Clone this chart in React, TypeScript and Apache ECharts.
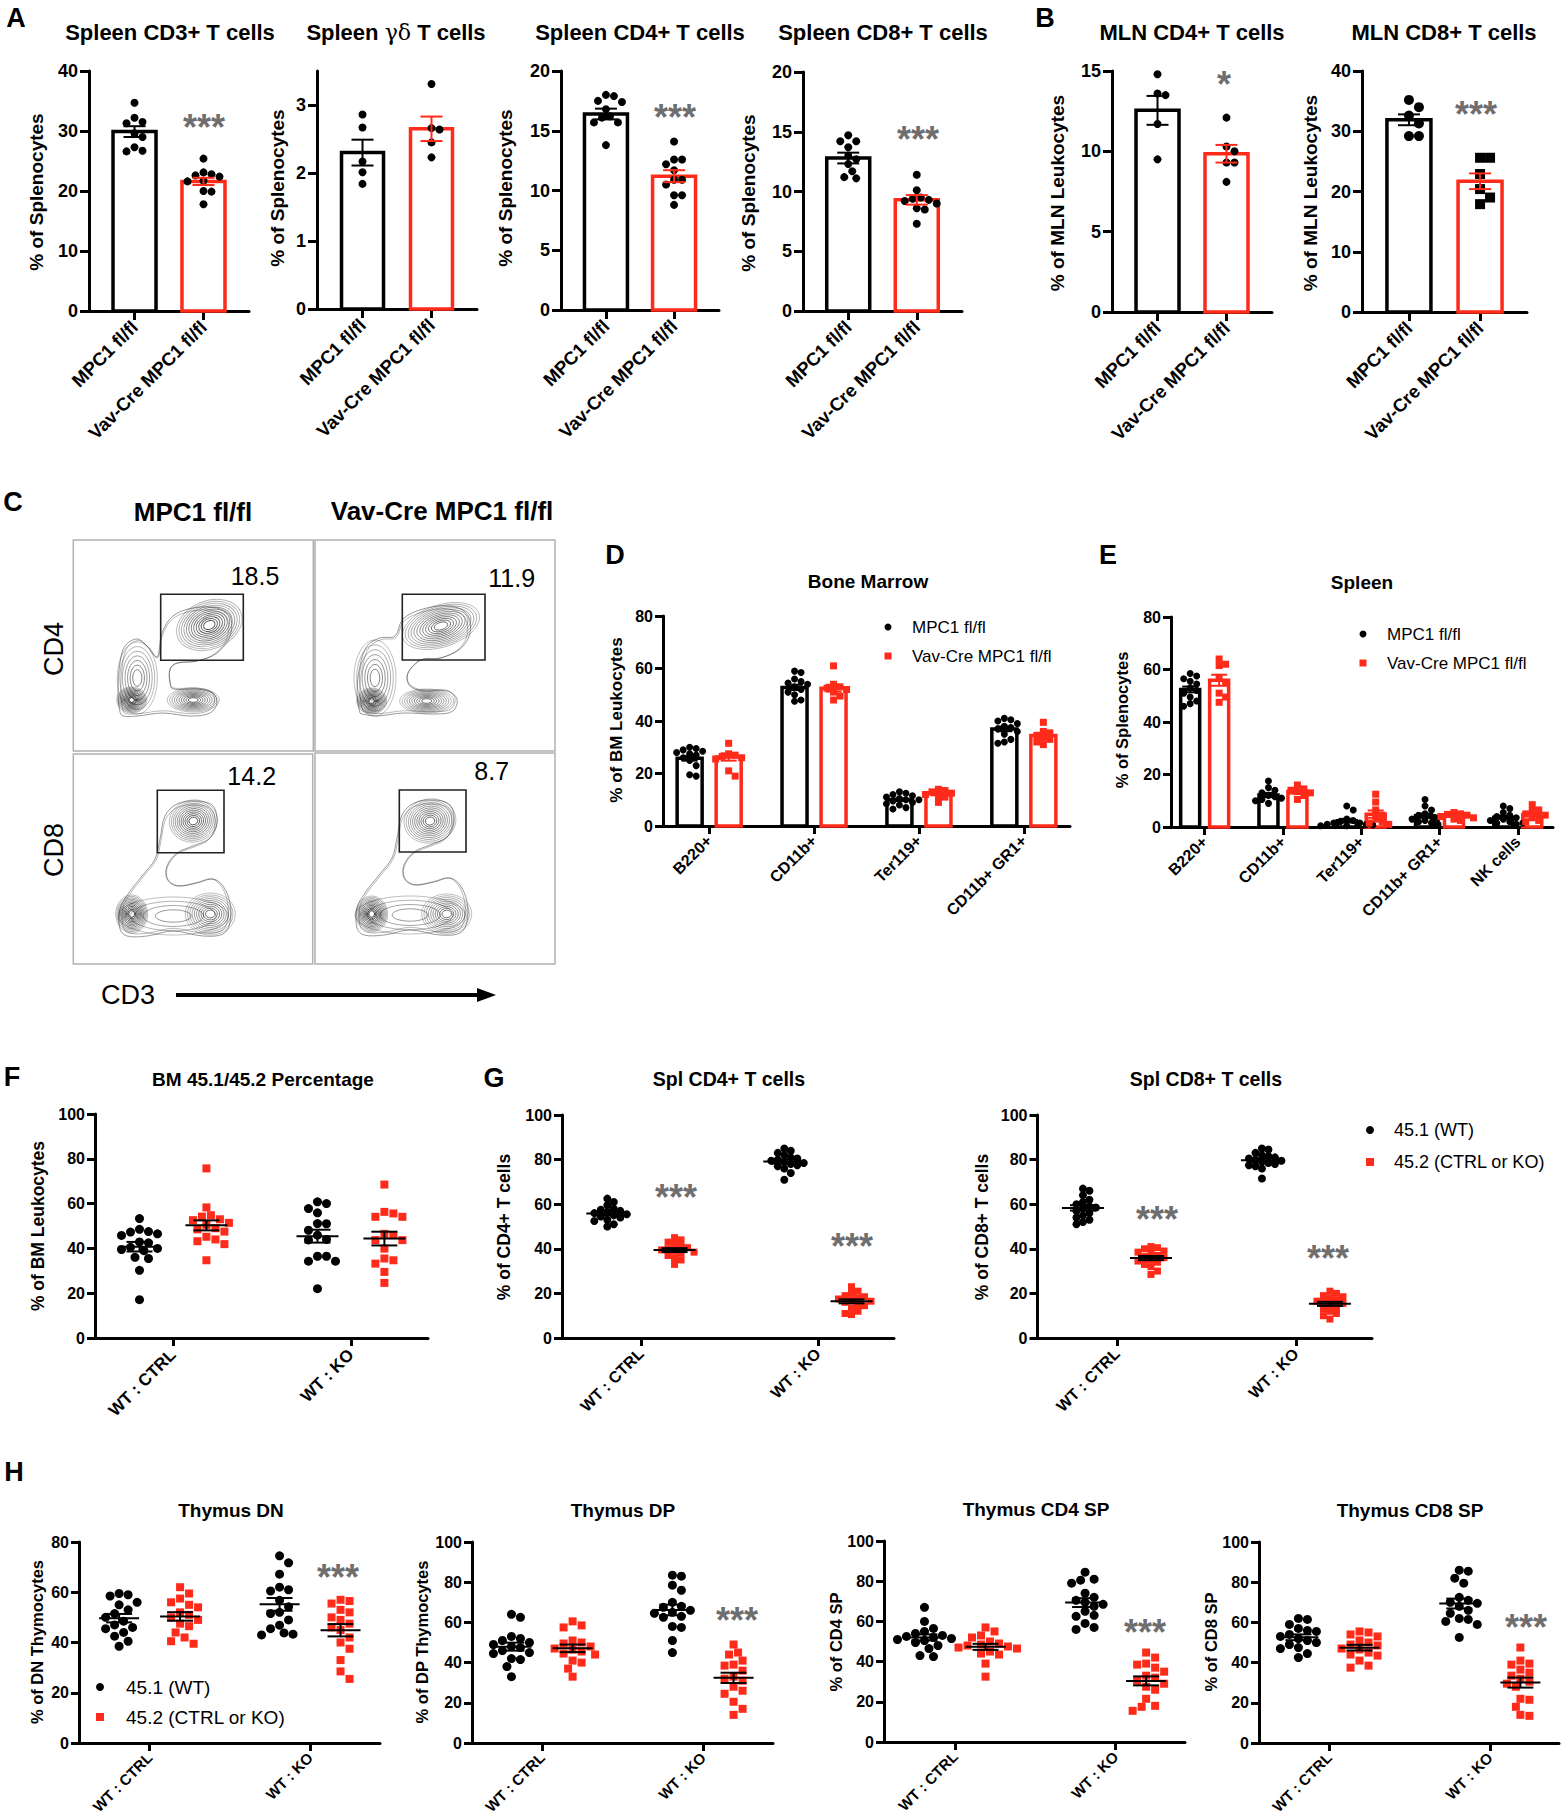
import React, { useEffect, useRef } from "react";
import * as echarts from "echarts";

const BLACK = "#000000";
const RED = "#ff2b1a";
const STAR = "#6e6e6e";
const FONT = "'Liberation Sans', Arial, Helvetica, sans-serif";

// ---------------- Panel A / B (bar + dots) ----------------
const genotypes = ["MPC1 fl/fl", "Vav-Cre MPC1 fl/fl"];
const cd3Ctrl = [34.7, 32.2, 31.5, 31.3, 29.6, 29.0, 27.3, 26.7, 26.6];
const cd3Ko = [25.4, 23.1, 22.8, 22.6, 22.4, 21.7, 21.6, 20.0, 19.9, 17.8];
const cd3Mean = [29.9, 21.6];
const cd3Sem = [0.9, 0.6];
const gdCtrl = [2.86, 2.67, 2.17, 2.01, 1.84];
const gdKo = [3.31, 2.66, 2.64, 2.45, 2.23];
const gdMean = [2.3, 2.65];
const gdSem = [0.19, 0.18];
const cd4Ctrl = [18.0, 17.9, 17.5, 17.4, 16.8, 16.2, 16.1, 15.7, 15.7, 13.8];
const cd4Ko = [14.1, 12.6, 12.6, 12.2, 11.7, 10.9, 10.9, 10.5, 9.6, 9.6, 8.8];
const cd4Mean = [16.4, 11.2];
const cd4Sem = [0.45, 0.5];
const cd8Ctrl = [14.7, 14.2, 14.2, 13.7, 13.0, 12.7, 12.3, 11.7, 11.2, 11.1];
const cd8Ko = [11.4, 10.1, 9.5, 9.4, 9.3, 9.2, 9.0, 8.6, 8.5, 7.3];
const cd8Mean = [12.8, 9.3];
const cd8Sem = [0.45, 0.4];
const mlnCd4Ctrl = [14.8, 13.6, 13.5, 11.7, 9.5];
const mlnCd4Ko = [12.1, 10.3, 10.0, 9.3, 9.3, 8.1];
const mlnCd4Mean = [12.55, 9.85];
const mlnCd4Sem = [0.9, 0.55];
const mlnCd8Ctrl = [35.2, 34.0, 32.6, 31.3, 29.2, 29.2];
const mlnCd8Ko = [25.6, 25.6, 22.9, 20.4, 19.0, 17.9];
const mlnCd8Mean = [31.9, 21.7];
const mlnCd8Sem = [0.9, 1.3];

// ---------------- Panel C (flow) ----------------
const flowPercents = ["18.5", "11.9", "14.2", "8.7"];

// ---------------- Panel D (bone marrow) ----------------
const bmCats = ["B220+", "CD11b+", "Ter119+", "CD11b+ GR1+"];
const bmCtrlPoints = [
  [30, 29.5, 29, 28.5, 28, 27.5, 27, 26, 25, 23, 19.5, 19],
  [59, 58.5, 56, 55, 54.5, 54, 53, 52, 51, 50, 48, 47.5],
  [13, 12.5, 12, 11.5, 11, 10.5, 10, 10, 9.5, 9, 8.5, 8, 7, 6.5],
  [41, 40.5, 40, 39, 38, 37.5, 37, 36, 35, 33, 32, 31.5],
];
const bmKoPoints = [
  [31.5, 27.5, 27, 26.5, 26, 25.5, 21, 19],
  [61, 54, 53, 52.5, 52, 51, 49.5, 48],
  [14, 13.5, 13, 12.5, 12, 11.5, 11, 9],
  [39.5, 36, 35.5, 34.5, 33.5, 33, 32, 31],
];
const bmCtrlMean = [25.8, 52.8, 10.0, 37.0];
const bmCtrlSem = [0.9, 1.0, 0.5, 0.9];
const bmKoMean = [26.3, 52.5, 12.3, 34.5];
const bmKoSem = [1.4, 1.3, 0.6, 1.0];

// ---------------- Panel E (spleen) ----------------
const spCats = ["B220+", "CD11b+", "Ter119+", "CD11b+ GR1+", "NK cells"];
const spCtrlPoints = [
  [58.5, 57.5, 56.5, 55.5, 54.5, 53, 52, 51, 49.5, 48, 47, 46],
  [17.5, 15, 14, 13, 12, 11.5, 11, 10.5, 10, 9],
  [8, 6.5, 3, 2.5, 2, 1.5, 1.5, 1, 1, 0.8, 0.5, 0.5],
  [10.5, 8, 6.5, 5, 4.5, 4, 3.5, 3, 2.5, 2, 1.5, 1],
  [8, 7, 5.5, 4.5, 4, 3.5, 3, 2.5, 2, 1.5, 1.5, 1],
];
const spKoPoints = [
  [64, 62, 61.5, 57, 55, 51, 49.5, 47.5],
  [16, 14.5, 14, 13.5, 13, 12, 10.5],
  [12.5, 9.5, 6.5, 4.5, 3, 2, 1.5, 1],
  [5.5, 5, 4.8, 4.5, 4, 3.5, 3, 2.5],
  [8.5, 6.5, 6, 5, 4.5, 3.5, 2.5, 2],
];
const spCtrlMean = [52.4, 12.2, 2.4, 4.3, 3.7];
const spCtrlSem = [1.1, 0.8, 0.7, 0.8, 0.6];
const spKoMean = [55.9, 13.5, 4.9, 4.2, 4.8];
const spKoSem = [2.1, 0.8, 1.4, 0.4, 0.8];

// ---------------- Panels F / G / H (chimeras) ----------------
const chimCats = ["WT : CTRL", "WT : KO"];
const bmChimWT = [
  [53.3, 48.5, 47.5, 47.3, 46.5, 45.8, 42.9, 42.5, 40.5, 40, 39.5, 39, 36, 35.5, 30.2, 17.1],
  [60.8, 60, 57.8, 55.9, 51.1, 51, 48.1, 45.9, 44, 43.8, 36.5, 36.5, 34.3, 34.3, 22],
];
const bmChimDon = [
  [75.7, 58.3, 54.8, 54.2, 53, 52.6, 51.4, 50.5, 49, 48.5, 47.5, 45.2, 44, 43.2, 41.9, 34.7],
  [68.5, 56.3, 55.6, 54.1, 54.1, 46.5, 45.9, 43.7, 43.7, 39.9, 35.5, 34.7, 33.2, 29.5, 24.6],
];
const splCd4WT = [
  [62.5, 61, 59.5, 58, 57.5, 57, 56.5, 56, 55.5, 55, 54.5, 54, 53, 52.5, 51, 50],
  [85, 84, 83, 82, 81, 80.5, 80, 79.5, 79, 78.5, 78, 77.5, 77, 76, 74, 71],
];
const splCd4Don = [
  [45, 44, 43, 42, 41, 40.5, 40, 39.5, 39, 38.5, 38, 37, 36, 35, 33],
  [23, 21, 20, 19, 18.5, 18, 17.5, 17, 16.5, 16, 15, 14.5, 13.5, 12, 11, 10.5],
];
const splCd8WT = [
  [67, 66, 64, 62, 61, 60, 59, 58.5, 58, 57, 56, 55, 54, 53, 52, 51],
  [85, 84.5, 83, 82, 81.5, 81, 80.5, 80, 79.5, 79, 78.5, 78, 77.5, 77, 76, 71.5],
];
const splCd8Don = [
  [41, 40.5, 40, 39, 38.5, 38, 37, 36.5, 36, 35, 34.5, 34, 33, 32, 30, 28.5],
  [21, 20, 19, 18.5, 18, 17, 16.5, 16, 15.5, 15, 14, 13, 12, 11, 10, 8.5],
];
const thyDnWT = [
  [59.5, 59, 58.5, 56, 55, 53, 51.5, 50, 48.5, 47, 46, 45.5, 44, 42.5, 40.5, 38.5],
  [74.5, 71.7, 67.2, 62, 61, 60.5, 56.8, 54.2, 52, 51.5, 49, 46.9, 45.5, 43.8, 43.3, 43],
];
const thyDnDon = [
  [62, 59.5, 57.5, 56, 55, 54, 52, 51, 50, 49, 47.5, 46.5, 44, 42, 40.5, 39.5],
  [57, 56.5, 55.5, 53, 52, 50, 49, 47.5, 46, 45, 42, 40, 37.5, 33, 28.5, 25.5],
];
const thyDpWT = [
  [64, 62.5, 53, 52, 51, 50, 49, 48, 47.5, 46, 45, 44.5, 42, 41.5, 38, 33],
  [83.5, 83, 78.5, 76, 70, 68, 67.5, 66, 65, 64.5, 63, 62.5, 58, 57.5, 51, 45],
];
const thyDpDon = [
  [60.5, 58.5, 57.5, 51, 50, 49.5, 48, 47, 46.5, 45.5, 44.5, 44, 41, 40, 37, 33],
  [49, 45, 44, 41, 39, 38.5, 36, 33, 32, 31, 28, 26, 24.5, 20.5, 17, 14],
];
const thyCd4WT = [
  [67, 60, 56.5, 55, 54, 53, 52.5, 52, 51.5, 51, 50.5, 49.5, 48, 46.5, 43, 42.5],
  [84.5, 81, 80.5, 79, 74, 72, 70.5, 69.5, 68.5, 67.5, 65, 63, 62.5, 59, 57, 56],
];
const thyCd4Don = [
  [57, 55, 53, 52, 50, 49, 48.5, 48, 47.5, 47, 46.5, 45, 44, 43.5, 39, 32.5],
  [44.5, 42, 39, 38.5, 37, 35, 33, 32, 30.5, 29, 27.5, 26, 21.5, 18, 17.5, 15.5],
];
const thyCd8WT = [
  [62, 61.5, 59, 57, 56, 55.5, 54, 53, 52, 51, 50, 49, 47.5, 47, 44.5, 42.5],
  [86, 85.5, 82, 79.5, 72.5, 71, 70, 69.5, 68, 66, 64.5, 62, 61.5, 60.5, 59, 52.5],
];
const thyCd8Don = [
  [55.5, 55, 54, 53, 51, 50, 49, 48.5, 47, 46.5, 45, 44, 43.5, 41, 38.5, 37.5],
  [47.5, 41, 39.5, 39, 36.5, 35, 33.5, 32, 30.5, 29.5, 28, 22, 21.5, 18, 14, 13.5],
];

// ---------------- helpers ----------------
const avg = (a: number[]) => a.reduce((s, v) => s + v, 0) / a.length;
const sem = (a: number[]) => {
  const m = avg(a);
  const v = a.reduce((s, x) => s + (x - m) * (x - m), 0) / (a.length - 1);
  return Math.sqrt(v / a.length);
};

// beeswarm placement (layout only): returns [x, y] pairs in data units
function swarm(values: number[], center: number, pxX: number, pxY: number, d: number) {
  const placed: { x: number; y: number }[] = [];
  const order = values.map((_, i) => i).sort((a, b) => values[b] - values[a]);
  const res: number[][] = new Array(values.length);
  const step = d / 2;
  for (const i of order) {
    const y = values[i] * pxY;
    let chosen = 0;
    for (let k = 0; k < 60; k++) {
      const off = k === 0 ? 0 : (k % 2 === 1 ? 1 : -1) * Math.ceil(k / 2) * step;
      if (placed.every((p) => Math.hypot(p.x - off, p.y - y) >= d - 0.01)) {
        chosen = off;
        break;
      }
    }
    placed.push({ x: chosen, y });
    res[i] = [center + chosen / pxX, values[i]];
  }
  return res;
}

const STYLES: any = {
  A: { axisW: 3, tickLen: 9, yFont: 18, xFont: 18.5, xMargin: 13, yMargin: 11 },
  D: { axisW: 3, tickLen: 8, yFont: 16, xFont: 16, xMargin: 12, yMargin: 10 },
  F: { axisW: 3, tickLen: 8, yFont: 16, xFont: 17, xMargin: 14, yMargin: 10 },
  G: { axisW: 3, tickLen: 8, yFont: 16, xFont: 16, xMargin: 13, yMargin: 10 },
  H: { axisW: 3, tickLen: 8, yFont: 16, xFont: 15, xMargin: 12, yMargin: 10 },
};

type Grp = { x: number; values: number[]; color: string; symbol: string; size: number };
type Bar = { x: number; mean: number; sem: number; color: string };

function barPanel(left: number, top: number, width: number, height: number, yMax: number, yTicks: number[], bw: number,
  ctrl: number[], ko: number[], means: number[], sems: number[], koSymbol = "circle", size = 8) {
  return {
    left, top, width, height, xMin: -0.66, xMax: 1.66, cats: genotypes, yMax, yTicks, style: "A",
    barWidth: bw, barLine: 3.5, capW: 22, spread: size,
    bars: [
      { x: 0, mean: means[0], sem: sems[0], color: BLACK },
      { x: 1, mean: means[1], sem: sems[1], color: RED },
    ],
    groups: [
      { x: 0, values: ctrl, color: BLACK, symbol: "circle", size },
      { x: 1, values: ko, color: BLACK, symbol: koSymbol, size },
    ],
  };
}

function multiBar(left: number, top: number, width: number, height: number, xMin: number, xMax: number, cats: string[],
  off: number, bw: number, cPts: number[][], kPts: number[][], cM: number[], cS: number[], kM: number[], kS: number[]) {
  const bars: Bar[] = [];
  const groups: Grp[] = [];
  cats.forEach((_, k) => {
    bars.push({ x: k - off, mean: cM[k], sem: cS[k], color: BLACK });
    bars.push({ x: k + off, mean: kM[k], sem: kS[k], color: RED });
    groups.push({ x: k - off, values: cPts[k], color: BLACK, symbol: "circle", size: 7 });
    groups.push({ x: k + off, values: kPts[k], color: RED, symbol: "rect", size: 7 });
  });
  return { left, top, width, height, xMin, xMax, cats, yMax: 80, yTicks: [0, 20, 40, 60, 80], style: "D",
    barWidth: bw, barLine: 3.5, capW: 16, spread: 6.5, bars, groups };
}

function dotPanel(left: number, top: number, width: number, height: number, xMin: number, xMax: number, yMax: number,
  style: string, wt: number[][], don: number[][], off: number, size: number, spread: number, meanW: number, semW: number) {
  const groups: Grp[] = [];
  [0, 1].forEach((k) => {
    groups.push({ x: k - off, values: wt[k], color: BLACK, symbol: "circle", size });
    groups.push({ x: k + off, values: don[k], color: RED, symbol: "rect", size: size - 1 });
  });
  const yTicks: number[] = [];
  for (let v = 0; v <= yMax; v += 20) yTicks.push(v);
  return { left, top, width, height, xMin, xMax, cats: chimCats, yMax, yTicks, style, groups, spread, meanW, semW };
}

const panels: any[] = [
  barPanel(89, 71, 160, 240, 40, [0, 10, 20, 30, 40], 43, cd3Ctrl, cd3Ko, cd3Mean, cd3Sem),
  barPanel(317, 71, 160, 238, 3.5, [0, 1, 2, 3], 42, gdCtrl, gdKo, gdMean, gdSem),
  barPanel(561, 71, 158, 239, 20, [0, 5, 10, 15, 20], 43, cd4Ctrl, cd4Ko, cd4Mean, cd4Sem),
  barPanel(803, 72, 159, 239, 20, [0, 5, 10, 15, 20], 43, cd8Ctrl, cd8Ko, cd8Mean, cd8Sem),
  barPanel(1112, 71, 160, 241, 15, [0, 5, 10, 15], 43, mlnCd4Ctrl, mlnCd4Ko, mlnCd4Mean, mlnCd4Sem),
  barPanel(1362, 71, 165, 241, 40, [0, 10, 20, 30, 40], 44, mlnCd8Ctrl, mlnCd8Ko, mlnCd8Mean, mlnCd8Sem, "rect", 10),
  multiBar(663, 616, 407, 210, -0.44, 3.44, bmCats, 0.186, 25, bmCtrlPoints, bmKoPoints, bmCtrlMean, bmCtrlSem, bmKoMean, bmKoSem),
  multiBar(1171, 617, 382, 210, -0.43, 4.45, spCats, 0.185, 19, spCtrlPoints, spKoPoints, spCtrlMean, spCtrlSem, spKoMean, spKoSem),
  dotPanel(95, 1114, 333, 224, -0.438, 1.433, 100, "F", bmChimWT, bmChimDon, 0.188, 9, 9, 42, 26),
  dotPanel(562, 1115, 332, 223, -0.446, 1.43, 100, "G", splCd4WT, splCd4Don, 0.19, 8, 6.5, 42, 26),
  dotPanel(1037.5, 1115, 334.5, 223, -0.444, 1.425, 100, "G", splCd8WT, splCd8Don, 0.19, 8, 6.5, 42, 26),
  dotPanel(79, 1542, 301, 201, -0.44, 1.436, 80, "H", thyDnWT, thyDnDon, 0.19, 9, 9, 40, 26),
  dotPanel(472, 1542, 301, 201, -0.435, 1.435, 100, "H", thyDpWT, thyDpDon, 0.19, 9, 9, 40, 26),
  dotPanel(884, 1541, 301, 201, -0.442, 1.432, 100, "H", thyCd4WT, thyCd4Don, 0.19, 9, 9, 40, 26),
  dotPanel(1259, 1542, 300, 201, -0.435, 1.43, 100, "H", thyCd8WT, thyCd8Don, 0.19, 9, 9, 40, 26),
];

// ---------------- graphic helpers ----------------
function txt(x: number, y: number, text: string, size: number, o: any = {}) {
  return {
    type: "text", x, y, z: 50, silent: true,
    rotation: o.rot || 0,
    style: {
      text, fill: o.color || "#000", fontSize: size, fontWeight: o.weight || "bold",
      fontFamily: o.family || FONT, align: o.align || "center", verticalAlign: "middle", rich: o.rich,
    },
  };
}
const yName = (x: number, y: number, text: string, size: number) => txt(x, y, text, size, { rot: Math.PI / 2 });
const stars = (x: number, y: number, text: string, size = 36) => txt(x, y + size * 0.22, text, size, { color: STAR });

// flow cytometry contour sketch (box-relative layout)
const flowBoxes = [
  { x: 73.3, y: 540, w: 240, h: 211, gate: [87.4, 54.3, 82.6, 66], lab: [181.7, 36],
    blobs: [[58.4, 160, 15, 13, 0, 12, 1], [64, 138, 20, 36, 0, 7, 0.5], [120, 160, 26, 12, 0, 10, 0.7],
      [136, 85, 34, 24, 22, 12, 0.75]] },
  { x: 315, y: 540, w: 240, h: 211, gate: [87.3, 54.3, 82.7, 65.7], lab: [196.7, 37.7],
    blobs: [[56.7, 161, 15, 13, 0, 12, 1], [60, 138, 21, 38, 0, 7, 0.5], [111.7, 161, 27, 12, 0, 10, 0.6],
      [126, 86, 40, 21, 18, 12, 0.55]] },
  { x: 73.3, y: 754, w: 239.4, h: 210, gate: [84, 36.3, 66.7, 62.4], lab: [178.4, 22],
    blobs: [[58.4, 160, 16, 19, 0, 12, 1], [137, 160, 25, 21, 0, 10, 0.6], [100, 162, 55, 19, 0, 4, 0.35],
      [120, 67, 24, 21, 10, 11, 0.7]] },
  { x: 315, y: 753, w: 240, h: 211, gate: [84.3, 37, 66.7, 62], lab: [176.7, 18],
    blobs: [[56.7, 161, 16, 18, 0, 12, 1], [131.7, 161, 25, 20, 0, 10, 0.55], [95, 162, 55, 19, 0, 4, 0.35],
      [115, 68, 26, 22, 10, 11, 0.6]] },
];
// outer contour envelopes (page coordinates)
const envTL = [[120, 712], [118, 692], [120, 663], [125, 646], [137, 639], [147, 646], [157, 657], [162, 633], [173, 616], [193, 608], [217, 608], [230, 616], [230, 636], [217, 653], [197, 661], [177, 663], [170, 669], [170, 683], [173, 689], [197, 689], [213, 693], [217, 703], [210, 713], [190, 716], [163, 713], [137, 716], [123, 716]];
const envTR = [[360, 713], [357, 693], [360, 666], [367, 646], [380, 638], [395, 636], [403, 619], [423, 609], [450, 606], [467, 614], [470, 633], [460, 649], [440, 658], [423, 659], [413, 666], [407, 676], [410, 686], [423, 691], [447, 691], [457, 699], [453, 711], [437, 714], [403, 713], [377, 716], [362, 714]];
const envBL = [[120, 929], [120, 909], [128, 894], [142, 876], [155, 859], [160, 839], [165, 816], [177, 804], [197, 801], [213, 806], [217, 823], [210, 838], [193, 846], [177, 853], [167, 866], [167, 879], [177, 886], [197, 883], [213, 879], [223, 886], [230, 903], [230, 923], [223, 934], [203, 936], [173, 931], [147, 936], [127, 936]];
const envBR = envBL.map(([x, y]) => [x + 237, y - 1]);
const flowEnvelopes = [envTL, envTR, envBL, envBR];

function centroid(pts: number[][]) {
  return [avg(pts.map((p) => p[0])), avg(pts.map((p) => p[1]))];
}

function flowGraphics() {
  const els: any[] = [];
  flowBoxes.forEach((b, bi) => {
    els.push({ type: "rect", silent: true, z: 10, shape: { x: b.x, y: b.y, width: b.w, height: b.h }, style: { fill: "#fff", stroke: "#b0b0b0", lineWidth: 1.5 } });
    const env = flowEnvelopes[bi];
    const c = centroid(env);
    [1, 0.95].forEach((f, k) => {
      els.push({ type: "polygon", silent: true, z: 11,
        shape: { points: env.map(([x, y]) => [c[0] + (x - c[0]) * f, c[1] + (y - c[1]) * f]), smooth: 0.35 },
        style: { fill: "none", stroke: `rgba(30,30,30,${k === 0 ? 0.5 : 0.35})`, lineWidth: 0.9 } });
    });
    b.blobs.forEach((bl) => {
      const [cx, cy, rx, ry, rot, n, dark] = bl;
      for (let i = 0; i < n; i++) {
        const f = 1 - (i / n) * 0.9;
        const a = Math.min(0.95, 0.3 + 0.7 * (i / n) * dark);
        els.push({ type: "ellipse", silent: true, z: 11, x: b.x + cx, y: b.y + cy, rotation: (rot * Math.PI) / 180,
          shape: { cx: 0, cy: 0, rx: rx * f, ry: ry * f }, style: { fill: "none", stroke: `rgba(20,20,20,${a})`, lineWidth: 0.9 } });
      }
    });
    els.push({ type: "rect", silent: true, z: 12, shape: { x: b.x + b.gate[0], y: b.y + b.gate[1], width: b.gate[2], height: b.gate[3] }, style: { fill: "none", stroke: "#222", lineWidth: 1.6 } });
    els.push(txt(b.x + b.lab[0], b.y + b.lab[1], flowPercents[bi], 25, { weight: "normal" }));
  });
  els.push(txt(193, 512, "MPC1 fl/fl", 26));
  els.push(txt(442, 511, "Vav-Cre MPC1 fl/fl", 26));
  els.push(txt(54, 649, "CD4", 27, { rot: Math.PI / 2, weight: "normal" }));
  els.push(txt(54, 850, "CD8", 27, { rot: Math.PI / 2, weight: "normal" }));
  els.push(txt(128, 995, "CD3", 27, { weight: "normal" }));
  els.push({ type: "line", silent: true, shape: { x1: 176, y1: 995, x2: 480, y2: 995 }, style: { stroke: "#000", lineWidth: 4 } });
  els.push({ type: "polygon", silent: true, shape: { points: [[477, 988], [496, 995], [477, 1002]] }, style: { fill: "#000" } });
  return els;
}

function legendGraphics(x: number, y1: number, y2: number, t1: string, t2: string, size: number, mark: number, gap = 24) {
  return [
    { type: "circle", silent: true, z: 50, shape: { cx: x, cy: y1, r: mark / 2 }, style: { fill: BLACK } },
    { type: "rect", silent: true, z: 50, shape: { x: x - mark / 2, y: y2 - mark / 2, width: mark, height: mark }, style: { fill: RED } },
    txt(x + gap, y1, t1, size, { weight: "normal", align: "left" }),
    txt(x + gap, y2, t2, size, { weight: "normal", align: "left" }),
  ];
}

function buildOption() {
  const grid: any[] = [], xAxis: any[] = [], yAxis: any[] = [], series: any[] = [];
  panels.forEach((s, i) => {
    const st = STYLES[s.style];
    const idx = s.cats.map((_: string, k: number) => k);
    grid.push({ left: s.left, top: s.top, width: s.width, height: s.height, containLabel: false, outerBoundsMode: "none" });
    const lineStyle = { color: "#000", width: st.axisW };
    xAxis.push({
      gridIndex: i, type: "value", min: s.xMin, max: s.xMax, splitLine: { show: false },
      axisLine: { show: true, onZero: false, lineStyle },
      axisTick: { show: true, customValues: idx, length: st.tickLen, lineStyle },
      axisLabel: {
        customValues: idx, formatter: (v: number) => s.cats[Math.round(v)] ?? "", rotate: 45, margin: st.xMargin,
        color: "#000", fontSize: st.xFont, fontWeight: "bold", fontFamily: FONT,
      },
    });
    yAxis.push({
      gridIndex: i, type: "value", min: 0, max: s.yMax, splitLine: { show: false },
      axisLine: { show: true, onZero: false, lineStyle },
      axisTick: { show: true, customValues: s.yTicks, length: st.tickLen, lineStyle },
      axisLabel: { customValues: s.yTicks, margin: st.yMargin, color: "#000", fontSize: st.yFont, fontWeight: "bold", fontFamily: FONT },
    });
    const pxX = s.width / (s.xMax - s.xMin);
    const pxY = s.height / s.yMax;
    if (s.bars) {
      const bars: Bar[] = s.bars;
      series.push({
        type: "custom", xAxisIndex: i, yAxisIndex: i, z: 1, silent: true,
        data: bars.map((b) => [b.x, b.mean]),
        renderItem: (params: any, api: any) => {
          const c = bars[params.dataIndex].color;
          const t = api.coord([api.value(0), api.value(1)]);
          const o = api.coord([api.value(0), 0]);
          return { type: "rect", shape: { x: t[0] - s.barWidth / 2, y: t[1], width: s.barWidth, height: o[1] - t[1] },
            style: { fill: "#fff", stroke: c, lineWidth: s.barLine } };
        },
      });
    }
    s.groups.forEach((g: Grp) => {
      series.push({
        type: "scatter", xAxisIndex: i, yAxisIndex: i, z: 3, silent: true,
        symbol: g.symbol, symbolSize: g.size, itemStyle: { color: g.color, opacity: 1 },
        data: swarm(g.values, g.x, pxX, pxY, s.spread),
      });
    });
    if (s.bars) {
      const bars: Bar[] = s.bars;
      series.push({
        type: "custom", xAxisIndex: i, yAxisIndex: i, z: 4, silent: true,
        data: bars.map((b) => [b.x, b.mean, b.sem]),
        renderItem: (params: any, api: any) => {
          const c = bars[params.dataIndex].color;
          const x = api.value(0), m = api.value(1), e = api.value(2);
          const hi = api.coord([x, m + e]);
          const lo = api.coord([x, m - e]);
          const cw = s.capW / 2;
          const sty = { stroke: c, lineWidth: 2 };
          return { type: "group", children: [
            { type: "line", shape: { x1: hi[0], y1: hi[1], x2: lo[0], y2: lo[1] }, style: sty },
            { type: "line", shape: { x1: hi[0] - cw, y1: hi[1], x2: hi[0] + cw, y2: hi[1] }, style: sty },
            { type: "line", shape: { x1: lo[0] - cw, y1: lo[1], x2: lo[0] + cw, y2: lo[1] }, style: sty },
          ] };
        },
      });
    } else {
      series.push({
        type: "custom", xAxisIndex: i, yAxisIndex: i, z: 4, silent: true,
        data: s.groups.map((g: Grp) => [g.x, avg(g.values), sem(g.values)]),
        renderItem: (params: any, api: any) => {
          const x = api.value(0), m = api.value(1), e = api.value(2);
          const mid = api.coord([x, m]);
          const hi = api.coord([x, m + e]);
          const lo = api.coord([x, m - e]);
          const mw = s.meanW / 2, cw = s.semW / 2;
          const sty = { stroke: "#000", lineWidth: 2 };
          return { type: "group", children: [
            { type: "line", shape: { x1: mid[0] - mw, y1: mid[1], x2: mid[0] + mw, y2: mid[1] }, style: sty },
            { type: "line", shape: { x1: hi[0], y1: hi[1], x2: lo[0], y2: lo[1] }, style: sty },
            { type: "line", shape: { x1: hi[0] - cw, y1: hi[1], x2: hi[0] + cw, y2: hi[1] }, style: sty },
            { type: "line", shape: { x1: lo[0] - cw, y1: lo[1], x2: lo[0] + cw, y2: lo[1] }, style: sty },
          ] };
        },
      });
    }
  });

  const g: any[] = [];
  // panel letters
  [["A", 16, 18], ["B", 1045, 18], ["C", 13, 502], ["D", 615, 555], ["E", 1108, 555], ["F", 12, 1077], ["G", 494, 1078], ["H", 14, 1472]]
    .forEach(([t, x, y]: any) => g.push(txt(x, y, t, 27)));
  // titles A/B
  g.push(txt(170, 32, "Spleen CD3+ T cells", 22));
  g.push(txt(396, 32, "{a|Spleen }{g|γδ}{a| T cells}", 22, {
    rich: { a: { fontSize: 22, fontWeight: "bold", fontFamily: FONT }, g: { fontSize: 22, fontFamily: "'DejaVu Serif', serif", fontWeight: "normal" } } }));
  g.push(txt(640, 32, "Spleen CD4+ T cells", 22));
  g.push(txt(883, 32, "Spleen CD8+ T cells", 22));
  g.push(txt(1192, 32, "MLN CD4+ T cells", 22));
  g.push(txt(1444, 32, "MLN CD8+ T cells", 22));
  // y names A/B
  g.push(yName(36, 192, "% of Splenocytes", 19));
  g.push(yName(277, 188, "% of Splenocytes", 19));
  g.push(yName(505, 188, "% of Splenocytes", 19));
  g.push(yName(748, 193, "% of Splenocytes", 19));
  g.push(yName(1057, 193, "% of MLN Leukocytes", 19));
  g.push(yName(1310, 193, "% of MLN Leukocytes", 19));
  // stars A/B
  g.push(stars(204, 120, "***"));
  g.push(stars(675, 110, "***"));
  g.push(stars(918, 132, "***"));
  g.push(stars(1224, 77, "*"));
  g.push(stars(1476, 107, "***"));
  // C
  g.push(...flowGraphics());
  // D / E
  g.push(txt(868, 581, "Bone Marrow", 19));
  g.push(txt(1362, 582, "Spleen", 19));
  g.push(yName(616, 720, "% of BM Leukocytes", 17));
  g.push(yName(1122, 720, "% of Splenocytes", 16.5));
  g.push(...legendGraphics(888, 627, 656, "MPC1 fl/fl", "Vav-Cre MPC1 fl/fl", 17, 7));
  g.push(...legendGraphics(1363, 634, 663, "MPC1 fl/fl", "Vav-Cre MPC1 fl/fl", 17, 7));
  // F
  g.push(txt(263, 1079, "BM 45.1/45.2 Percentage", 19));
  g.push(yName(38, 1226, "% of BM Leukocytes", 17.5));
  // G
  g.push(txt(729, 1079, "Spl CD4+ T cells", 19.5));
  g.push(txt(1206, 1079, "Spl CD8+ T cells", 19.5));
  g.push(yName(504, 1227, "% of CD4+ T cells", 17.5));
  g.push(yName(982, 1227, "% of CD8+ T cells", 17.5));
  g.push(...legendGraphics(1370, 1130, 1162, "45.1 (WT)", "45.2 (CTRL or KO)", 18, 8));
  g.push(stars(676, 1190, "***"));
  g.push(stars(852, 1239, "***"));
  g.push(stars(1157, 1212, "***"));
  g.push(stars(1328, 1251, "***"));
  // H
  g.push(txt(231, 1510, "Thymus DN", 19));
  g.push(txt(623, 1510, "Thymus DP", 19));
  g.push(txt(1036, 1509, "Thymus CD4 SP", 19));
  g.push(txt(1410, 1510, "Thymus CD8 SP", 19));
  g.push(yName(37, 1642, "% of DN Thymocytes", 16.5));
  g.push(yName(422, 1642, "% of DP Thymocytes", 16.5));
  g.push(yName(836, 1642, "% of CD4 SP", 16.5));
  g.push(yName(1211, 1642, "% of CD8 SP", 16.5));
  g.push(...legendGraphics(100, 1687, 1717, "45.1 (WT)", "45.2 (CTRL or KO)", 19, 8, 26));
  g.push(stars(338, 1570, "***"));
  g.push(stars(737, 1613, "***"));
  g.push(stars(1145, 1625, "***"));
  g.push(stars(1526, 1620, "***"));

  return { animation: false, backgroundColor: "#fff", grid, xAxis, yAxis, series, graphic: { elements: g } };
}

export default function App() {
  const ref = useRef<HTMLDivElement>(null);
  useEffect(() => {
    const chart = echarts.init(ref.current as HTMLDivElement, undefined, { renderer: "svg", width: 1566, height: 1817 });
    chart.setOption(buildOption() as any);
    return () => chart.dispose();
  }, []);
  return <div ref={ref} style={{ position: "absolute", left: 0, top: 0, width: 1566, height: 1817, background: "#fff" }} />;
}
